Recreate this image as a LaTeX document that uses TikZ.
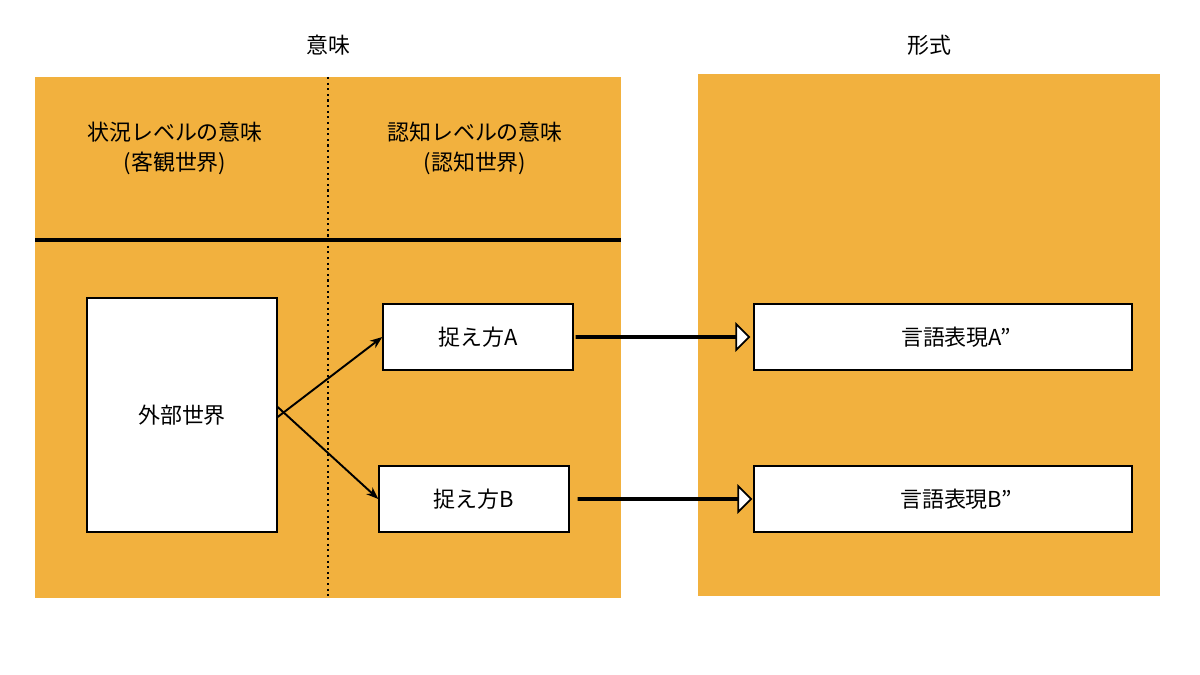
\documentclass[tikz,border=0pt]{standalone}
\usepackage{fontspec}
\setmainfont{Noto Sans CJK JP}
\usepackage{tikz}
\definecolor{PanelOrange}{HTML}{F2B13E}
\usetikzlibrary{
	positioning,
	calc,
	arrows.meta,
	shapes.arrows
}

\begin{document}
\begin{tikzpicture}[
		x=0.02cm, y=-0.02cm,
		every node/.style={font=\fontsize{12.5}{17}\selectfont},
		panel/.style={fill=PanelOrange, draw=none},
		framed/.style={draw, fill=white, line width=0.8pt, inner sep=0pt},
		bigarrow/.style={single arrow, draw, fill=white, line width=1pt, minimum height=3.45cm, single arrow head extend=0.24cm, minimum width=0.24cm, inner sep=0pt}
	]
		\useasboundingbox (0,0) rectangle (1200,675);
		\fill[panel] (35,77) rectangle (621,598);
		\fill[panel] (698,74) rectangle (1160,596);

		\node (meaning) at (328,45) {意味};
		\node (form) at (929,45) {形式};

		\draw[line width=2.6pt] (35,240) -- (621,240);
		\draw[dotted, line width=1.2pt] (328,77) -- (328,598);

		\node[align=center] (situation) at (175,148) {状況レベルの意味\\(客観世界)};
		\node[align=center] (cognition) at (475,148) {認知レベルの意味\\(認知世界)};

		\node[framed, minimum width=3.8cm, minimum height=4.68cm] (world) at (182,415) {外部世界};
		\node[framed, minimum width=3.8cm, minimum height=1.32cm] (viewA) at (478,337) {捉え方A};
		\node[framed, minimum width=3.8cm, minimum height=1.32cm] (viewB) at (474,499) {捉え方B};
		\node[framed, minimum width=7.56cm, minimum height=1.32cm] (exprA) at (943,337) {\hspace{1.2em}言語表現A"};
		\node[framed, minimum width=7.56cm, minimum height=1.32cm] (exprB) at (943,499) {\hspace{1.2em}言語表現B”};

		\begin{scope}[every path/.style={-{Stealth[length=7pt]}, line width=1.1pt}]
			\draw ([yshift=-0.04cm]world.east) -- (viewA.west);
			\draw ([yshift=0.16cm]world.east) -- (viewB.west);
		\end{scope}

		\node[bigarrow, right=0.04cm of viewA] (arrowA) {};
		\node[bigarrow, right=0.16cm of viewB] (arrowB) {};
	\end{tikzpicture}
\end{document}
